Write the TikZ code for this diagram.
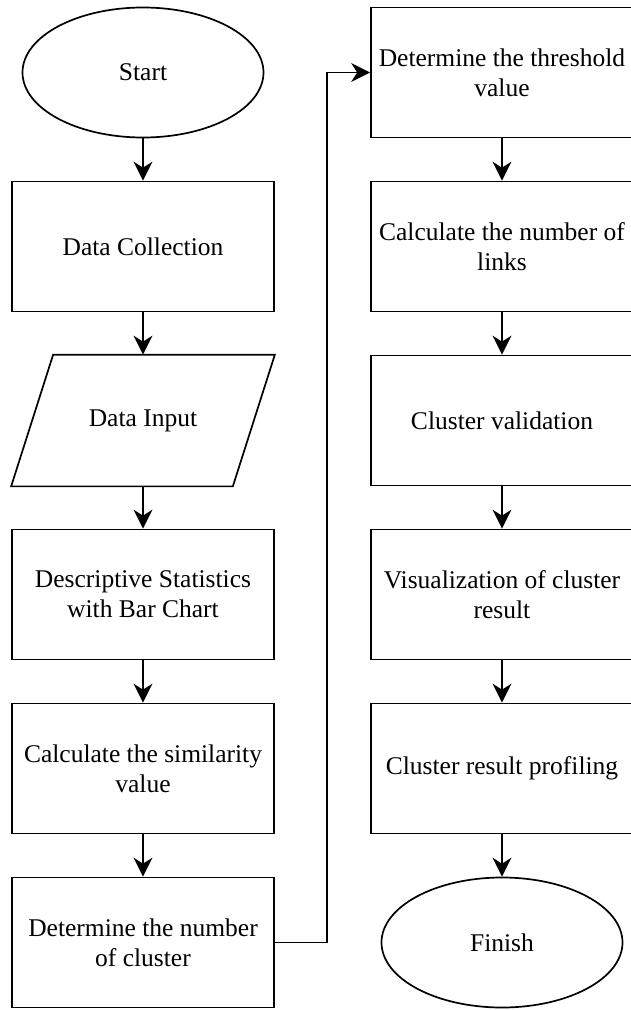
\documentclass[tikz,border=0pt]{standalone}
\usepackage{fontspec}
\setmainfont{Liberation Serif}
\usetikzlibrary{arrows.meta, positioning, shapes.geometric}

\begin{document}
\begin{tikzpicture}[x=1pt, y=1pt,
      base/.style={draw=black, line width=1.7pt, align=center, inner sep=2pt,
                   font=\fontsize{25.5}{30}\selectfont},
      proc/.style={base, rectangle, minimum width=262pt, minimum height=130pt},
      term/.style={base, ellipse, minimum width=241pt, minimum height=130pt},
      io/.style={base, draw=none, rectangle, minimum width=262pt, minimum height=130pt},
      a/.style={-{Stealth[length=19pt, width=19pt, inset=6pt]}, line width=1.7pt}]
    \useasboundingbox (0,0) rectangle (630,-1010);
    % left column
    \node[term] (start) at (143,-72.5) {Start};
    \node[proc, below=42.3pt of start] (collect) {Data Collection};
    \node[io, below=42.3pt of collect] (input) {Data Input};
    \draw[line width=1.7pt] ([xshift=42pt]input.north west) -- (input.north east)
      -- ([xshift=-42pt]input.south east) -- (input.south west) -- cycle;
    \node[proc, below=42.3pt of input] (descr) {Descriptive Statistics\\with Bar Chart};
    \node[proc, below=42.3pt of descr] (simil) {Calculate the similarity\\value};
    \node[proc, below=42.3pt of simil] (ncl) {Determine the number\\of cluster};
    % right column
    \node[proc] (thr) at (502,-72.5) {Determine the threshold\\value};
    \node[proc, below=42.3pt of thr] (links) {Calculate the number of\\links};
    \node[proc, below=42.3pt of links] (valid) {Cluster validation};
    \node[proc, below=42.3pt of valid] (vis) {Visualization of cluster\\result};
    \node[proc, below=42.3pt of vis] (prof) {Cluster result profiling};
    \node[term, below=42.3pt of prof] (finish) {Finish};
    \coordinate (turn) at (327,0);
    \draw[a] (start) -- (collect); \draw[a] (collect) -- (input);
    \draw[a] (input) -- (descr); \draw[a] (descr) -- (simil);
    \draw[a] (simil) -- (ncl);
    \draw[a] (ncl.east) -- (ncl.east -| turn) |- (thr.west);
    \draw[a] (thr) -- (links); \draw[a] (links) -- (valid);
    \draw[a] (valid) -- (vis); \draw[a] (vis) -- (prof);
    \draw[a] (prof) -- (finish);
  \end{tikzpicture}
\end{document}
